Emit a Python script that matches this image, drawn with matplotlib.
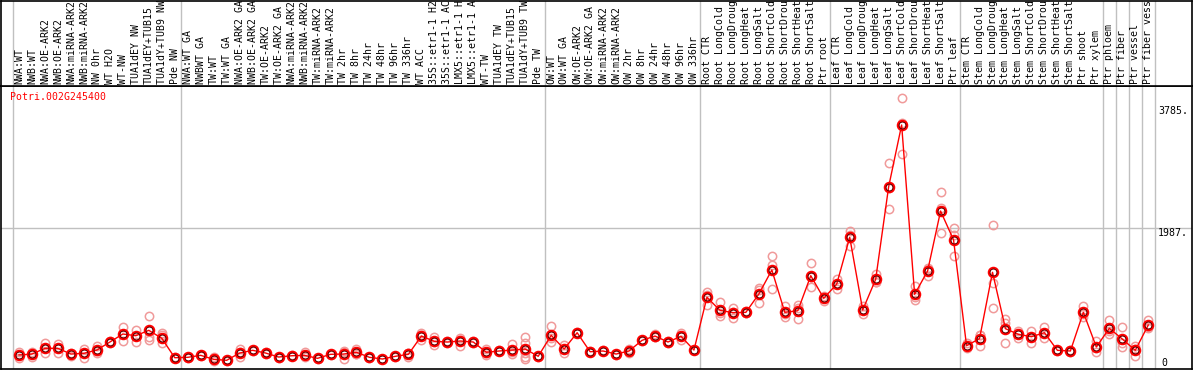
import matplotlib
matplotlib.use("Agg")
import matplotlib.pyplot as plt
import matplotlib.transforms as mtransforms

# sample labels (as shown, cut to 14 characters)
labels = [
    "NWA:WT", "NWB:WT", "NWA:OE-ARK2", "NWB:OE-ARK2", "NWA:miRNA-ARK2", "NWB:miRNA-ARK2",
    "NW 0hr", "WT H2O", "WT-NW", "TUA1dEY NW", "TUA1dEY+TUB15", "TUA1dY+TUB9 NW", "Pde NW",
    "NWA:WT GA", "NWBWT GA", "TW:WT", "TW:WT GA", "NWA:OE-ARK2 GA", "NWB:OE-ARK2 GA",
    "TW:OE-ARK2", "TW:OE-ARK2 GA", "NWA:miRNA-ARK2", "NWB:miRNA-ARK2", "TW:miRNA-ARK2",
    "TW:miRNA-ARK2", "TW 2hr", "TW 8hr", "TW 24hr", "TW 48hr", "TW 96hr", "TW 336hr",
    "WT ACC", "35S::etr1-1 H2", "35S::etr1-1 AC", "LMX5::etr1-1 H", "LMX5::etr1-1 A",
    "WT-TW", "TUA1dEY TW", "TUA1dEY+TUB15", "TUA1dY+TUB9 TW", "Pde TW",
    "OW:WT", "OW:WT GA", "OW:OE-ARK2", "OW:OE-ARK2 GA", "OW:miRNA-ARK2", "OW:miRNA-ARK2",
    "OW 2hr", "OW 8hr", "OW 24hr", "OW 48hr", "OW 96hr", "OW 336hr",
    "Root CTR", "Root LongCold", "Root LongDroug", "Root LongHeat", "Root LongSalt",
    "Root ShortCold", "Root ShortDrou", "Root ShortHeat", "Root ShortSalt", "Ptr root",
    "Leaf CTR", "Leaf LongCold", "Leaf LongDroug", "Leaf LongHeat", "Leaf LongSalt",
    "Leaf ShortCold", "Leaf ShortDrou", "Leaf ShortHeat", "Leaf ShortSalt", "Ptr leaf",
    "Stem CTR", "Stem LongCold", "Stem LongDroug", "Stem LongHeat", "Stem LongSalt",
    "Stem ShortCold", "Stem ShortDrou", "Stem ShortHeat", "Stem ShortSalt", "Ptr shoot",
    "Ptr xylem", "Ptr phloem", "Ptr fiber", "Ptr vessel", "Ptr fiber vess",
]

# mean expression per sample
means = [
    118, 132, 216, 216, 132, 143, 191, 309, 427, 402, 481, 364, 78,
    84, 113, 54, 40, 147, 187, 147, 88, 107, 113, 69, 128, 132, 158, 84, 59, 99,
    128, 397, 319, 309, 324, 309, 158, 177, 191, 206, 99,
    408, 206, 446, 166, 177, 132, 177, 334, 397, 309, 393, 191,
    967, 776, 740, 746, 1016, 1369, 746, 770, 1285, 952,
    1163, 1850, 780, 1232, 2595, 3503, 1011, 1354, 2237, 1811,
    255, 358, 1335, 505, 422, 387, 446, 187, 177, 746,
    236, 511, 353, 187, 559,
]

# replicate values per sample
reps = [
    [162, 118, 74], [166, 132, 93], [299, 152, 216], [275, 152, 221], [152, 103, 140],
    [206, 78, 145], [177, 152, 245], [309, 300, 318], [530, 324, 427], [486, 314, 405],
    [692, 387, 339], [437, 412, 290], [78, 70, 86],
    [84, 78, 90], [113, 105, 120], [93, 44, 25], [40, 35, 45], [202, 84, 155],
    [187, 180, 195], [147, 140, 155], [88, 80, 95], [107, 100, 115], [158, 84, 97],
    [69, 62, 76], [128, 120, 135], [181, 54, 161], [202, 132, 140], [84, 78, 90],
    [59, 52, 66], [99, 92, 106], [143, 93, 148], [437, 339, 415], [378, 265, 314],
    [309, 300, 318], [372, 255, 345], [309, 300, 318], [206, 118, 150], [177, 170, 185],
    [275, 132, 166], [378, 299, 143, 93, 59], [99, 92, 106],
    [545, 305, 374], [152, 260, 206], [446, 440, 452], [166, 160, 172], [177, 170, 185],
    [132, 125, 140], [206, 143, 182], [334, 326, 342], [427, 378, 386], [309, 300, 318],
    [446, 393, 340], [191, 185, 198],
    [1045, 1001, 855], [902, 692, 734], [805, 658, 757], [770, 732, 736], [1100, 879, 1069],
    [1575, 1089, 1443], [839, 673, 726], [854, 643, 813], [1472, 1114, 1269], [991, 952, 913],
    [1236, 1085, 1168], [1943, 1722, 1885], [717, 780, 843], [1310, 1188, 1198],
    [2940, 2267, 2578], [3896, 3076, 3537], [1133, 927, 973], [1394, 1285, 1383],
    [2513, 2286, 1909], [1983, 1884, 1575],
    [290, 255, 220], [412, 255, 407], [2031, 1173, 805], [643, 290, 582], [372, 422, 472],
    [299, 387, 475], [530, 446, 362], [187, 180, 195], [177, 165, 190], [839, 682, 717],
    [324, 166, 218], [633, 427, 473], [525, 240, 294], [255, 107, 199], [633, 511, 533],
]

# group boundaries (sample index where a new group starts)
bounds = [0, 13, 41, 53, 63, 73, 84, 85, 86, 87, 88]
yticks = [0, 1987, 3785]
gene = "Potri.002G245400"

W, H = 1194, 370
fig = plt.figure(figsize=(W / 100, H / 100), dpi=100)
mono = "DejaVu Sans Mono"
grey = "#c0c0c0"

# pixel helpers for axes placement
x0, step = 19, 12.98
xl = ((1 - x0) / step, (1192 - x0) / step)
ax = fig.add_axes([1 / W, 1 / H, 1191 / W, 283 / H])
hx = fig.add_axes([1 / W, 284 / H, 1191 / W, 85 / H], sharex=ax)
ax.set_xlim(*xl)
ax.set_ylim(-88, 4077)
hx.set_ylim(85, 0)

for a in (ax, hx):
    a.set_xticks([])
    a.set_yticks([])
    for s in a.spines.values():
        s.set_linewidth(1.2)
        s.set_color("black")

for b in bounds:
    ax.axvline(b - 0.5, color=grey, lw=1, zorder=0)
    hx.axvline(b - 0.5, color=grey, lw=1, zorder=0)
ax.axhline(yticks[1], color=grey, lw=1, zorder=0)

xs = list(range(len(labels)))
for i, r in enumerate(reps):
    ax.plot([i] * len(r), r, "o", ms=6, mfc="none", mec="#f09a9a", mew=1.1, zorder=2)
ax.plot(xs, means, "-", color="red", lw=1, zorder=3)
ax.plot(xs, means, "o", ms=6.5, mfc="none", mec="red", mew=1.8, zorder=4)
ax.plot(xs, means, "o", ms=5, mfc="none", mec="#400000", mew=0.6, zorder=5)

for i, lab in enumerate(labels):
    hx.text(i, 83, lab, rotation=90, ha="center", va="bottom",
            family=mono, fontsize=7.1, color="black")

ax.text(9 / 1191, 0.96, gene, transform=ax.transAxes, family=mono,
        fontsize=7.1, color="red", va="center", ha="left")

tr = mtransforms.blended_transform_factory(ax.transAxes, ax.transData)
for t in yticks:
    lab = str(t) + "." if t else "0"
    xpos = 0.9965 if t else 0.979
    ax.text(xpos, t, lab, transform=tr, family=mono, fontsize=7.1,
            ha="right", va="top" if t else "center")

fig.savefig("out.png", dpi=100)
